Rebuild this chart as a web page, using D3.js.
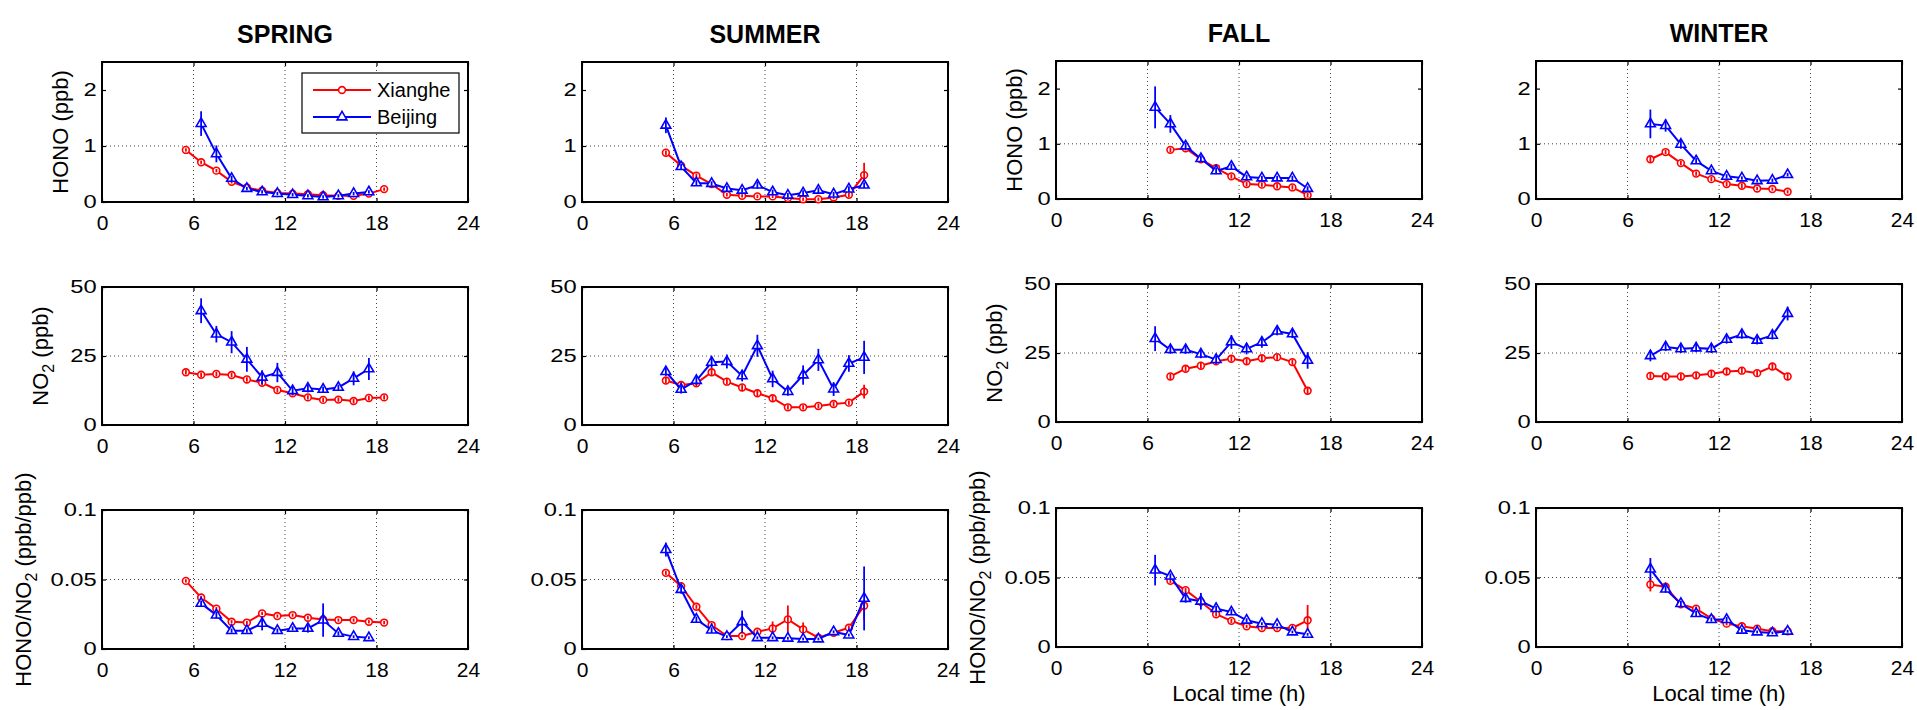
<!DOCTYPE html>
<html>
<head>
<meta charset="utf-8">
<script src="https://cdn.jsdelivr.net/npm/d3@7"></script>
<style>
  body { margin: 0; background: #fff; }
  svg { display: block; font-family: "Liberation Sans", Arial, sans-serif; }
</style>
</head>
<body>
<script>
// ---- data ----
const seasons = ["SPRING", "SUMMER", "FALL", "WINTER"];
const sites = ["Xianghe", "Beijing"];
const xTicks = [0, 6, 12, 18, 24];

// hours (local time) of each hourly mean
const springXhHours = [5.5, 6.5, 7.5, 8.5, 9.5, 10.5, 11.5, 12.5, 13.5, 14.5, 15.5, 16.5, 17.5, 18.5];
const springBjHours = [6.5, 7.5, 8.5, 9.5, 10.5, 11.5, 12.5, 13.5, 14.5, 15.5, 16.5, 17.5];
const summerXhHours = [5.5, 6.5, 7.5, 8.5, 9.5, 10.5, 11.5, 12.5, 13.5, 14.5, 15.5, 16.5, 17.5, 18.5];
const summerBjHours = [5.5, 6.5, 7.5, 8.5, 9.5, 10.5, 11.5, 12.5, 13.5, 14.5, 15.5, 16.5, 17.5, 18.5];
const fallXhHours = [7.5, 8.5, 9.5, 10.5, 11.5, 12.5, 13.5, 14.5, 15.5, 16.5];
const fallBjHours = [6.5, 7.5, 8.5, 9.5, 10.5, 11.5, 12.5, 13.5, 14.5, 15.5, 16.5];
const winterXhHours = [7.5, 8.5, 9.5, 10.5, 11.5, 12.5, 13.5, 14.5, 15.5, 16.5];
const winterBjHours = [7.5, 8.5, 9.5, 10.5, 11.5, 12.5, 13.5, 14.5, 15.5, 16.5];

// HONO (ppb)
const springXhHONO = [0.93, 0.71, 0.56, 0.36, 0.26, 0.20, 0.16, 0.15, 0.14, 0.12, 0.11, 0.11, 0.15, 0.23];
const springBjHONO = [1.40, 0.86, 0.42, 0.24, 0.18, 0.15, 0.13, 0.11, 0.09, 0.11, 0.15, 0.18];
const summerXhHONO = [0.88, 0.65, 0.47, 0.32, 0.13, 0.11, 0.10, 0.10, 0.07, 0.05, 0.05, 0.08, 0.13, 0.48];
const summerBjHONO = [1.37, 0.63, 0.34, 0.33, 0.24, 0.21, 0.30, 0.18, 0.12, 0.16, 0.21, 0.14, 0.23, 0.30];
const fallXhHONO = [0.89, 0.92, 0.72, 0.56, 0.41, 0.27, 0.26, 0.23, 0.21, 0.07];
const fallBjHONO = [1.66, 1.36, 0.96, 0.73, 0.51, 0.59, 0.40, 0.38, 0.38, 0.38, 0.19];
const winterXhHONO = [0.72, 0.85, 0.65, 0.46, 0.36, 0.27, 0.24, 0.19, 0.18, 0.13];
const winterBjHONO = [1.36, 1.33, 0.99, 0.69, 0.51, 0.41, 0.38, 0.33, 0.34, 0.44];
const springXhHONOErr = [0.03, 0.03, 0.03, 0.03, 0.03, 0.03, 0.03, 0.03, 0.03, 0.03, 0.03, 0.03, 0.03, 0.03];
const springBjHONOErr = [0.22, 0.15, 0.05, 0.03, 0.03, 0.03, 0.03, 0.03, 0.03, 0.03, 0.03, 0.03];
const summerXhHONOErr = [0.04, 0.04, 0.04, 0.03, 0.03, 0.03, 0.03, 0.03, 0.03, 0.03, 0.03, 0.03, 0.04, 0.22];
const summerBjHONOErr = [0.14, 0.05, 0.05, 0.04, 0.05, 0.04, 0.06, 0.04, 0.04, 0.05, 0.05, 0.04, 0.05, 0.05];
const fallXhHONOErr = [0.04, 0.04, 0.04, 0.04, 0.04, 0.04, 0.04, 0.04, 0.04, 0.04];
const fallBjHONOErr = [0.38, 0.16, 0.06, 0.06, 0.06, 0.05, 0.04, 0.04, 0.04, 0.04, 0.04];
const winterXhHONOErr = [0.05, 0.04, 0.04, 0.04, 0.04, 0.04, 0.04, 0.03, 0.03, 0.03];
const winterBjHONOErr = [0.26, 0.11, 0.08, 0.05, 0.04, 0.04, 0.03, 0.03, 0.03, 0.03];

// NO2 (ppb)
const springXhNO2 = [19.1, 18.2, 18.5, 18.1, 16.5, 15.3, 12.7, 11.5, 10.0, 9.1, 9.2, 8.7, 9.8, 10.0];
const springBjNO2 = [41.4, 32.9, 30.0, 23.8, 17.3, 19.0, 12.4, 13.3, 12.9, 13.6, 16.9, 20.3];
const summerXhNO2 = [16.1, 14.5, 15.1, 19.1, 15.7, 13.6, 11.5, 9.7, 6.4, 6.4, 6.9, 7.6, 8.1, 12.1];
const summerBjNO2 = [19.3, 12.9, 16.1, 22.7, 23.0, 17.8, 28.7, 16.7, 12.1, 18.1, 23.6, 13.0, 22.3, 24.5];
const fallXhNO2 = [16.5, 19.3, 20.4, 22.0, 22.9, 22.0, 23.1, 23.5, 21.7, 11.3];
const fallBjNO2 = [30.2, 26.2, 26.2, 24.6, 22.6, 29.0, 26.5, 28.9, 32.9, 31.9, 22.3];
const winterXhNO2 = [16.7, 16.5, 16.5, 16.9, 17.5, 18.3, 18.6, 17.7, 20.1, 16.5];
const winterBjNO2 = [24.0, 27.2, 26.5, 26.8, 26.5, 29.9, 31.7, 29.6, 31.4, 39.3];
const springXhNO2Err = [0.8, 0.8, 0.8, 0.8, 0.8, 0.8, 0.8, 0.8, 0.8, 0.8, 0.8, 0.8, 0.8, 0.8];
const springBjNO2Err = [4.5, 3, 4, 4.5, 2.5, 3.5, 1.5, 1.5, 1, 1, 2.5, 4];
const summerXhNO2Err = [1, 1, 1, 1, 1, 1, 1, 1, 0.8, 0.8, 0.8, 0.8, 0.8, 2.5];
const summerBjNO2Err = [1.5, 1.5, 1.5, 2, 2.5, 2, 4, 3, 1.5, 3.5, 4, 2.5, 3, 6];
const fallXhNO2Err = [1, 1, 1, 1, 1, 1, 1, 1, 1, 1.2];
const fallBjNO2Err = [4.5, 1.5, 1.5, 1.5, 1.5, 2.5, 2, 2, 1.5, 1.5, 3];
const winterXhNO2Err = [1, 1, 1, 1, 1, 1, 1, 1, 1, 1.2];
const winterBjNO2Err = [2, 1.5, 1.5, 1.5, 1.5, 1.5, 1.5, 1.5, 1.5, 2.5];

// HONO/NO2 (ppb/ppb)
const springXhRatio = [0.049, 0.037, 0.029, 0.0196, 0.019, 0.0256, 0.0237, 0.0244, 0.0225, 0.0213, 0.0208, 0.0208, 0.0196, 0.019];
const springBjRatio = [0.0328, 0.0244, 0.0132, 0.0132, 0.0184, 0.0132, 0.0148, 0.0148, 0.0208, 0.0112, 0.0089, 0.0081];
const summerXhRatio = [0.0548, 0.0452, 0.0304, 0.0172, 0.0093, 0.0093, 0.0124, 0.0148, 0.0213, 0.0141, 0.0081, 0.0117, 0.0153, 0.0311];
const summerBjRatio = [0.0715, 0.0428, 0.0213, 0.0136, 0.0089, 0.0196, 0.0081, 0.0081, 0.0077, 0.0072, 0.0072, 0.0124, 0.010, 0.0364];
const fallXhRatio = [0.0476, 0.0409, 0.0325, 0.0236, 0.0188, 0.0149, 0.0137, 0.0137, 0.0137, 0.0192];
const fallBjRatio = [0.0553, 0.051, 0.0349, 0.0329, 0.0276, 0.0252, 0.0192, 0.0168, 0.0161, 0.0108, 0.0091];
const winterXhRatio = [0.045, 0.0433, 0.0308, 0.0276, 0.0204, 0.0168, 0.0149, 0.0132, 0.0113, 0.0113];
const winterBjRatio = [0.056, 0.0416, 0.0312, 0.024, 0.0197, 0.0197, 0.012, 0.0108, 0.0101, 0.0113];
const springXhRatioErr = [0.0012, 0.0012, 0.0012, 0.0012, 0.0012, 0.0012, 0.0012, 0.0012, 0.0012, 0.0012, 0.0012, 0.0012, 0.0012, 0.0012];
const springBjRatioErr = [0.002, 0.0025, 0.0015, 0.0015, 0.005, 0.0015, 0.0015, 0.003, 0.012, 0.0015, 0.001, 0.001];
const summerXhRatioErr = [0.0015, 0.0015, 0.0015, 0.0015, 0.001, 0.001, 0.0015, 0.005, 0.01, 0.005, 0.001, 0.001, 0.0015, 0.01];
const summerBjRatioErr = [0.005, 0.003, 0.002, 0.002, 0.001, 0.008, 0.001, 0.001, 0.001, 0.001, 0.001, 0.001, 0.001, 0.023];
const fallXhRatioErr = [0.0015, 0.0015, 0.0015, 0.0015, 0.0015, 0.0012, 0.0012, 0.0012, 0.0012, 0.011];
const fallBjRatioErr = [0.011, 0.002, 0.003, 0.006, 0.002, 0.002, 0.0015, 0.001, 0.001, 0.001, 0.001];
const winterXhRatioErr = [0.005, 0.002, 0.0015, 0.0015, 0.0012, 0.0012, 0.0012, 0.001, 0.001, 0.001];
const winterBjRatioErr = [0.008, 0.0025, 0.002, 0.002, 0.0015, 0.002, 0.0015, 0.001, 0.001, 0.001];

const yDomains = [[0, 2.5], [0, 50], [0, 0.1]];
const yTicks = [[0, 1, 2], [0, 25, 50], [0, 0.05, 0.1]];

// ---- assemble per panel (season x variable) ----
const hoursBySeason = [
  [springXhHours, springBjHours], [summerXhHours, summerBjHours],
  [fallXhHours, fallBjHours], [winterXhHours, winterBjHours]
];
const valuesByVar = [
  [[springXhHONO, springBjHONO], [summerXhHONO, summerBjHONO], [fallXhHONO, fallBjHONO], [winterXhHONO, winterBjHONO]],
  [[springXhNO2, springBjNO2], [summerXhNO2, summerBjNO2], [fallXhNO2, fallBjNO2], [winterXhNO2, winterBjNO2]],
  [[springXhRatio, springBjRatio], [summerXhRatio, summerBjRatio], [fallXhRatio, fallBjRatio], [winterXhRatio, winterBjRatio]]
];
const errorsByVar = [
  [[springXhHONOErr, springBjHONOErr], [summerXhHONOErr, summerBjHONOErr], [fallXhHONOErr, fallBjHONOErr], [winterXhHONOErr, winterBjHONOErr]],
  [[springXhNO2Err, springBjNO2Err], [summerXhNO2Err, summerBjNO2Err], [fallXhNO2Err, fallBjNO2Err], [winterXhNO2Err, winterBjNO2Err]],
  [[springXhRatioErr, springBjRatioErr], [summerXhRatioErr, summerBjRatioErr], [fallXhRatioErr, fallBjRatioErr], [winterXhRatioErr, winterBjRatioErr]]
];

// ---- layout ----
const W = 1917, H = 710;
const colLeft = [102, 582, 1056, 1536];
const panelW = 366;
const rowTop = [[62, 287, 510], [62, 287, 510], [61, 284, 508], [61, 284, 508]];
const rowBot = [[202, 425, 649], [202, 425, 649], [199, 422, 647], [199, 422, 647]];
const labelOffset = [-34, -54, -71];
const colors = ["#ff0000", "#0000ff"];

const svg = d3.select("body").append("svg")
    .attr("width", W)
    .attr("height", H);

const triangle = d3.symbol().type(d3.symbolTriangle).size(42);

function yLabel(g, r, h) {
    const t = g.append("text")
        .attr("transform", `translate(${labelOffset[r]},${h / 2}) rotate(-90)`)
        .attr("text-anchor", "middle")
        .style("font-size", "22px")
        .attr("fill", "#000");
    if (r === 0) {
        t.text("HONO (ppb)");
    } else if (r === 1) {
        t.append("tspan").text("NO");
        t.append("tspan").text("2").attr("dy", 6).style("font-size", "16px");
        t.append("tspan").text(" (ppb)").attr("dy", -6);
    } else {
        t.append("tspan").text("HONO/NO");
        t.append("tspan").text("2").attr("dy", 6).style("font-size", "16px");
        t.append("tspan").text(" (ppb/ppb)").attr("dy", -6);
    }
}

seasons.forEach((season, c) => {
    const left = colLeft[c];

    svg.append("text")
        .attr("x", left + panelW / 2)
        .attr("y", c < 2 ? 43 : 42)
        .attr("text-anchor", "middle")
        .style("font-size", "25px")
        .style("font-weight", "bold")
        .text(season);

    for (let r = 0; r < 3; r++) {
        const top = rowTop[c][r];
        const h = rowBot[c][r] - top;
        const g = svg.append("g").attr("transform", `translate(${left},${top})`);

        const x = d3.scaleLinear().domain([0, 24]).range([0, panelW]);
        const y = d3.scaleLinear().domain(yDomains[r]).range([h, 0]);

        // dotted grid
        g.append("g").selectAll("line")
            .data(xTicks.slice(1, -1))
            .join("line")
            .attr("x1", d => x(d)).attr("x2", d => x(d))
            .attr("y1", 0).attr("y2", h)
            .attr("stroke", "#444").attr("stroke-width", 1)
            .attr("stroke-dasharray", "1,3");
        g.append("g").selectAll("line")
            .data(yTicks[r].slice(1, -1))
            .join("line")
            .attr("x1", 0).attr("x2", panelW)
            .attr("y1", d => y(d)).attr("y2", d => y(d))
            .attr("stroke", "#444").attr("stroke-width", 1)
            .attr("stroke-dasharray", "1,3");

        // axes, ticks pointing inward
        const xAxis = g.append("g")
            .attr("transform", `translate(0,${h})`)
            .call(d3.axisBottom(x).tickValues(xTicks).tickSize(-4).tickPadding(13).tickFormat(d3.format("d")));
        xAxis.selectAll("text").style("font-size", "21px").attr("fill", "#000");

        const yAxis = g.append("g")
            .call(d3.axisLeft(y).tickValues(yTicks[r]).tickSize(-4).tickFormat(d => String(d)));
        yAxis.selectAll("text")
            .style("font-size", "18px")
            .attr("fill", "#000")
            .attr("x", -4)
            .attr("transform", "scale(1.32,1)");

        g.append("g").call(d3.axisTop(x).tickValues(xTicks).tickSize(-4).tickFormat(""));
        g.append("g").attr("transform", `translate(${panelW},0)`)
            .call(d3.axisRight(y).tickValues(yTicks[r]).tickSize(-4).tickFormat(""));
        g.selectAll(".domain").remove();
        g.selectAll(".tick line").attr("stroke", "#000").attr("stroke-width", 1.2);

        g.append("rect")
            .attr("width", panelW).attr("height", h)
            .attr("fill", "none")
            .attr("stroke", "#000").attr("stroke-width", 2);

        // series
        sites.forEach((site, s) => {
            const hrs = hoursBySeason[c][s];
            const vals = valuesByVar[r][c][s];
            const errs = errorsByVar[r][c][s];
            const pts = hrs.map((hr, i) => ({ h: hr, v: vals[i], e: errs[i] }));

            g.append("path")
                .datum(pts)
                .attr("fill", "none")
                .attr("stroke", colors[s])
                .attr("stroke-width", 2)
                .attr("d", d3.line().x(d => x(d.h)).y(d => y(d.v)));

            if (s === 0) {
                g.append("g").selectAll("circle")
                    .data(pts)
                    .join("circle")
                    .attr("cx", d => x(d.h)).attr("cy", d => y(d.v))
                    .attr("r", 3.4)
                    .attr("fill", "#fff")
                    .attr("stroke", colors[s]).attr("stroke-width", 1.6);
            } else {
                g.append("g").selectAll("path")
                    .data(pts)
                    .join("path")
                    .attr("d", triangle)
                    .attr("transform", d => `translate(${x(d.h)},${y(d.v)})`)
                    .attr("fill", "#fff")
                    .attr("stroke", colors[s]).attr("stroke-width", 1.6);
            }

            g.append("g").selectAll("line")
                .data(pts)
                .join("line")
                .attr("x1", d => x(d.h)).attr("x2", d => x(d.h))
                .attr("y1", d => y(d.v - d.e)).attr("y2", d => y(d.v + d.e))
                .attr("stroke", colors[s]).attr("stroke-width", 1.8);
        });

        if (c === 0 || c === 2) yLabel(g, r, h);

        if (r === 2 && c >= 2) {
            g.append("text")
                .attr("x", panelW / 2)
                .attr("y", h + 54)
                .attr("text-anchor", "middle")
                .style("font-size", "22px")
                .text("Local time (h)");
        }

        // legend (first panel only)
        if (c === 0 && r === 0) {
            const lg = g.append("g").attr("transform", "translate(200,11)");
            lg.append("rect")
                .attr("width", 157).attr("height", 60)
                .attr("fill", "#fff")
                .attr("stroke", "#000").attr("stroke-width", 1.2);
            sites.forEach((site, s) => {
                const ly = 17 + s * 27;
                lg.append("line")
                    .attr("x1", 11).attr("x2", 69)
                    .attr("y1", ly).attr("y2", ly)
                    .attr("stroke", colors[s]).attr("stroke-width", 2);
                if (s === 0) {
                    lg.append("circle").attr("cx", 40).attr("cy", ly).attr("r", 3.4)
                        .attr("fill", "#fff").attr("stroke", colors[s]).attr("stroke-width", 1.6);
                } else {
                    lg.append("path").attr("d", triangle())
                        .attr("transform", `translate(40,${ly})`)
                        .attr("fill", "#fff").attr("stroke", colors[s]).attr("stroke-width", 1.6);
                }
                lg.append("text")
                    .attr("x", 75).attr("y", ly + 7)
                    .style("font-size", "20px")
                    .text(site);
            });
        }
    }
});
</script>
</body>
</html>
